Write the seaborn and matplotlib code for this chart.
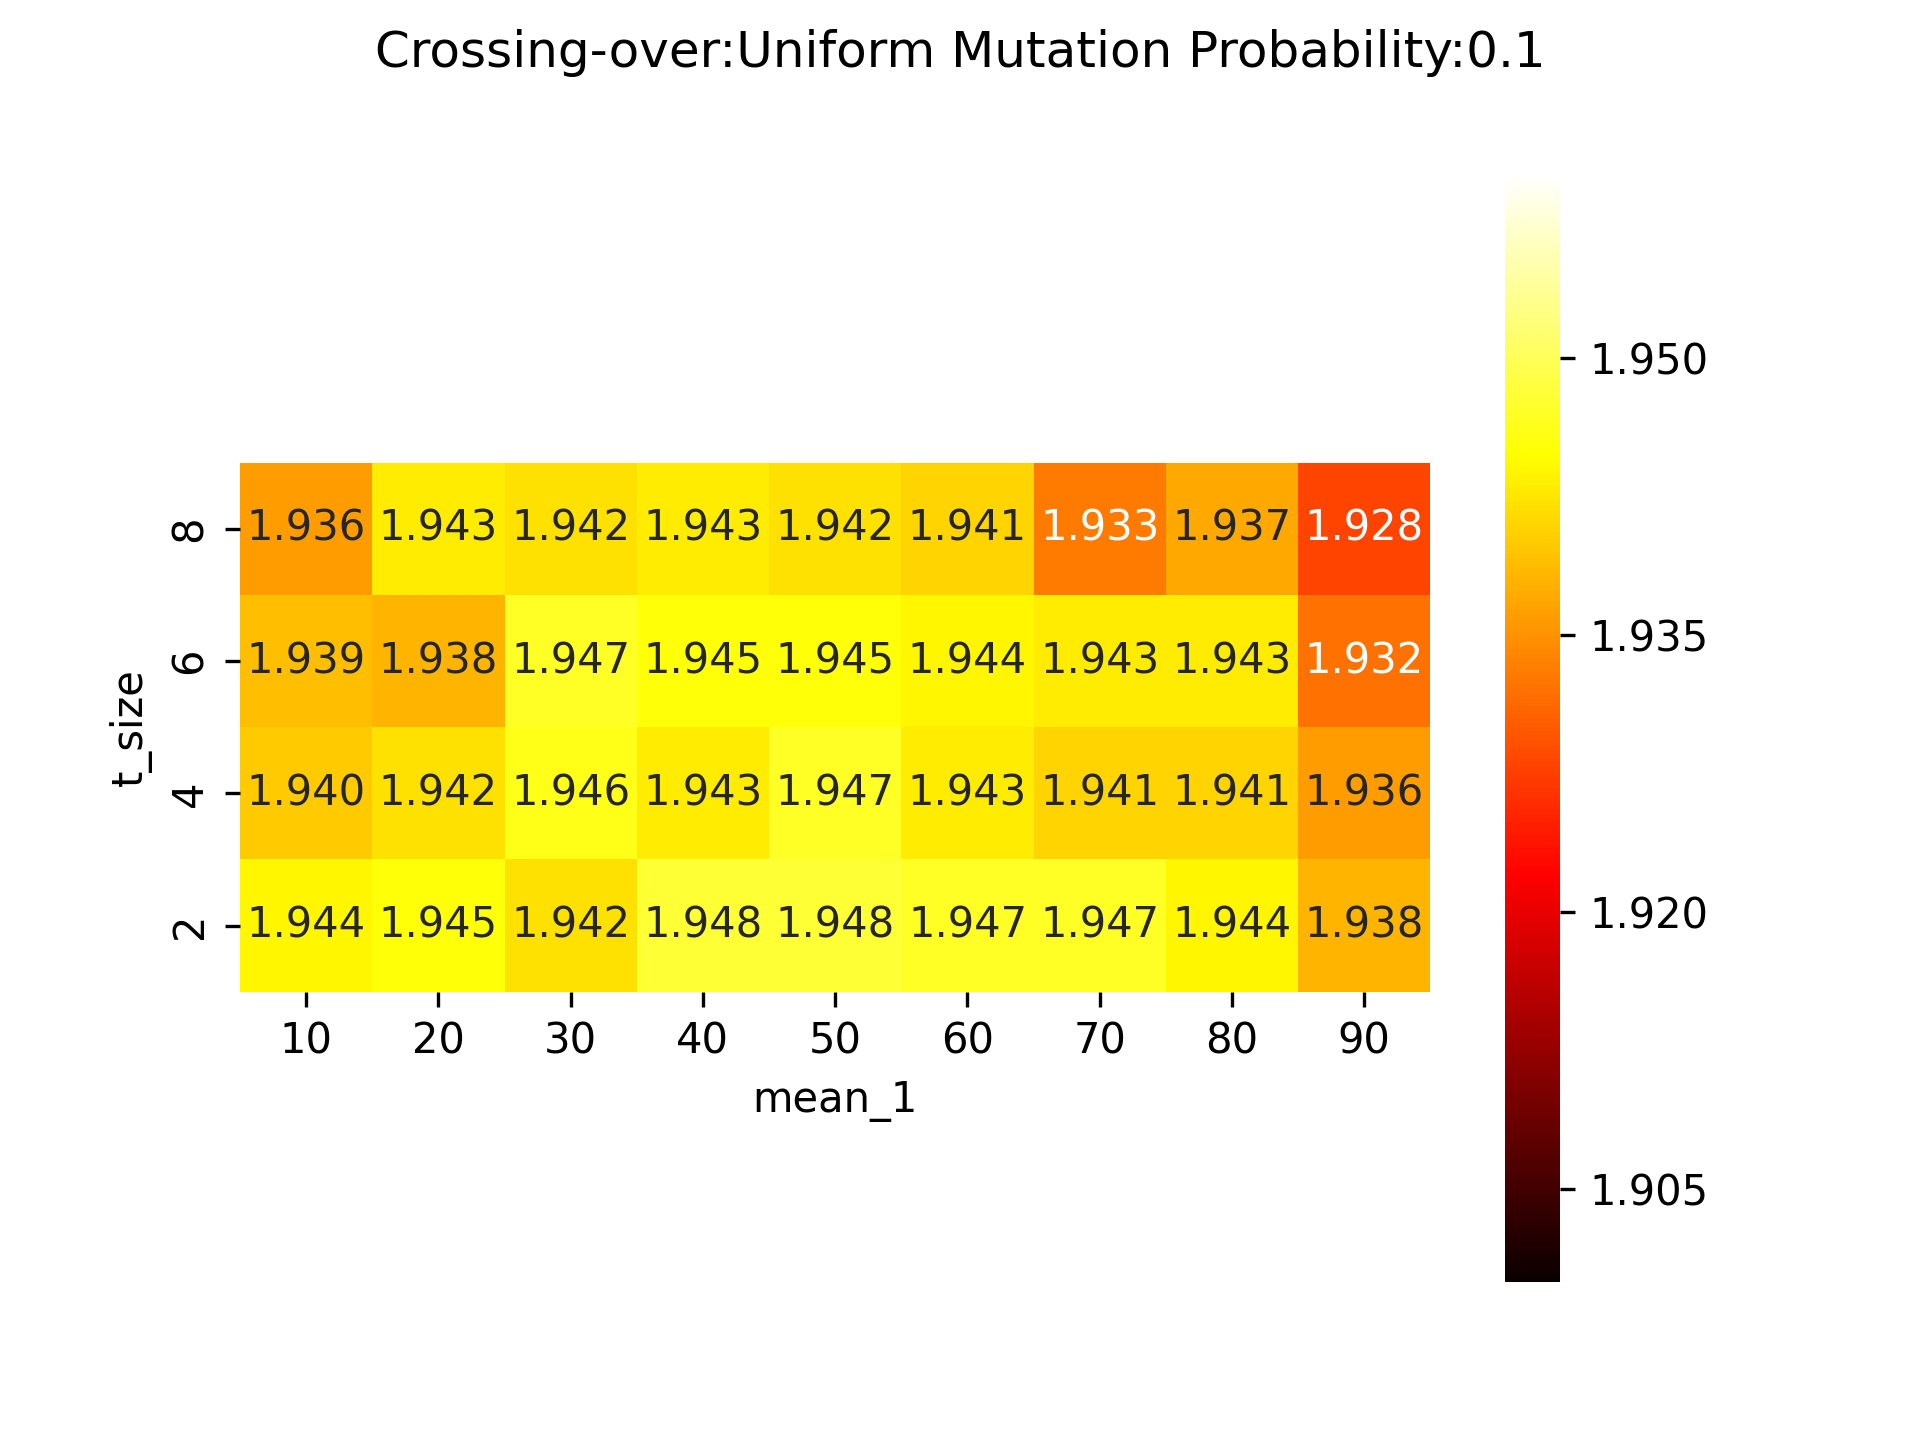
import matplotlib
matplotlib.use('Agg')
import matplotlib.pyplot as plt
import seaborn as sns
import numpy as np
import pandas as pd

mean_1 = [10, 20, 30, 40, 50, 60, 70, 80, 90]
t_size = [8, 6, 4, 2]

fitness = np.array([
    # 10     20     30     40     50     60     70     80     90
    [1.936, 1.943, 1.942, 1.943, 1.942, 1.941, 1.933, 1.937, 1.928],  # 8
    [1.939, 1.938, 1.947, 1.945, 1.945, 1.944, 1.943, 1.943, 1.932],  # 6
    [1.940, 1.942, 1.946, 1.943, 1.947, 1.943, 1.941, 1.941, 1.936],  # 4
    [1.944, 1.945, 1.942, 1.948, 1.948, 1.947, 1.947, 1.944, 1.938],  # 2
])

df = pd.DataFrame(fitness, index=pd.Index(t_size, name='t_size'),
                  columns=pd.Index(mean_1, name='mean_1'))

fig, ax = plt.subplots(figsize=(6.4, 4.8), dpi=300)
sns.heatmap(df, ax=ax, cmap='hot', vmin=1.90, vmax=1.96,
            annot=True, fmt='.3f', square=True,
            cbar_kws={'ticks': [1.905, 1.920, 1.935, 1.950]})
fig.suptitle('Crossing-over:Uniform Mutation Probability:0.1')

fig.savefig('out.png', dpi=300)
